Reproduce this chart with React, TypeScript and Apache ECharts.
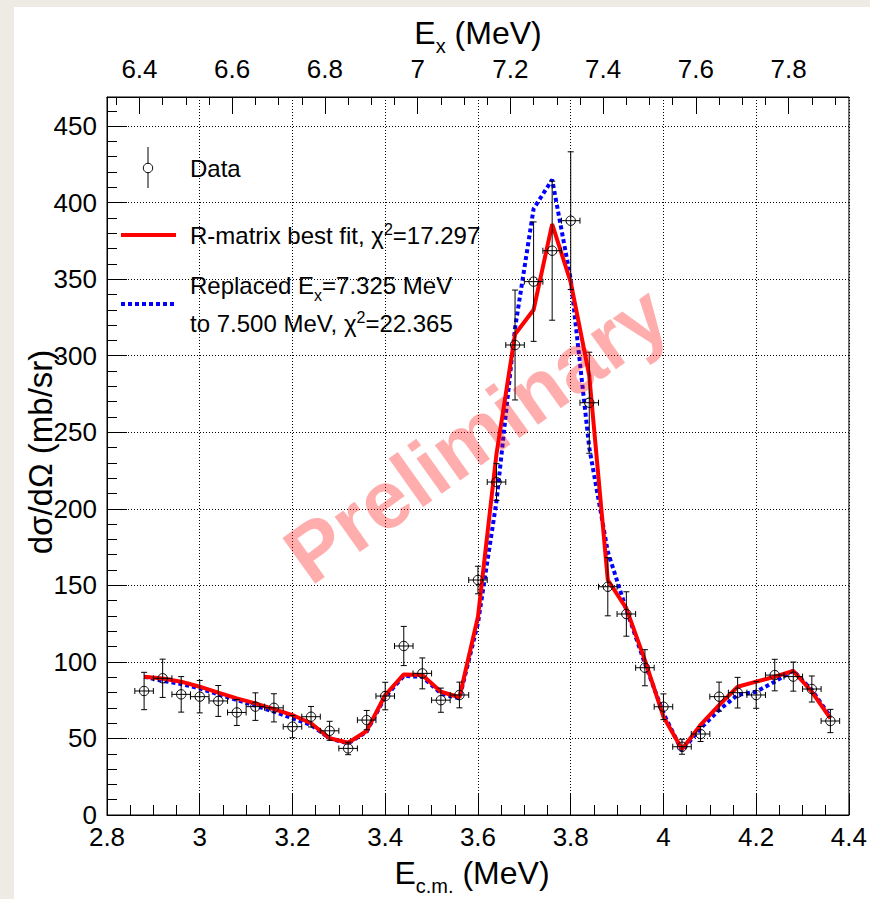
import React, { useEffect, useRef } from "react";
import * as echarts from "echarts";

// ---- data ----
const ecm = [2.88, 2.92, 2.96, 3.0, 3.04, 3.08, 3.12, 3.16, 3.2, 3.24, 3.28, 3.32, 3.36, 3.4, 3.44, 3.48, 3.52, 3.56, 3.6, 3.64, 3.68, 3.72, 3.76, 3.8, 3.84, 3.88, 3.92, 3.96, 4.0, 4.04, 4.08, 4.12, 4.16, 4.2, 4.24, 4.28, 4.32, 4.36];
const dataY = [81, 89.3, 78.8, 77.3, 74.5, 67, 70.8, 70, 57.7, 64.2, 55, 43.5, 62, 77.7, 110.4, 92.5, 75, 78.4, 153.5, 217.5, 307, 348.4, 368.6, 388.2, 269.3, 149.1, 131.3, 96.2, 70.7, 44.6, 52.9, 77.3, 79.9, 78.4, 91.4, 90.4, 82.3, 61.4];
const dataYErr = [12.2, 12.5, 11.6, 10.6, 10.1, 8.5, 9.0, 9.2, 7.2, 6.7, 6.2, 4.1, 6.3, 9.0, 12.8, 10.1, 7.9, 8.4, 9, 12, 35.9, 39, 45.4, 45, 33, 19, 14.5, 11.8, 8.4, 4.9, 4.9, 9.5, 10, 8.7, 10.3, 9.5, 8.5, 7.6];
const dataXErr = [0.02, 0.02, 0.02, 0.02, 0.02, 0.02, 0.02, 0.02, 0.02, 0.02, 0.02, 0.02, 0.02, 0.02, 0.02, 0.02, 0.02, 0.02, 0.02, 0.02, 0.02, 0.02, 0.02, 0.02, 0.02, 0.02, 0.02, 0.02, 0.02, 0.02, 0.02, 0.02, 0.02, 0.02, 0.02, 0.02, 0.02, 0.02];
const rMatrixBest = [90.3, 89.2, 87.1, 83.8, 79.9, 76.2, 72.9, 69.2, 65.3, 59.9, 50.1, 47.2, 54.9, 78.4, 91.8, 91.4, 80.5, 76.9, 129.5, 236, 314, 330, 386, 348, 287, 153.5, 135, 101.2, 64.2, 42.9, 58.8, 71.8, 83.8, 87.1, 90.3, 94.1, 80.5, 63.1];
const replaced = [90.3, 87.6, 85.6, 82.7, 78.8, 75.1, 71.4, 67.5, 63.2, 58.8, 50.1, 46.7, 54.4, 77.3, 90.8, 90.3, 79.4, 76.2, 125.3, 205, 318, 396, 415, 350, 240, 172, 134, 99, 66.4, 42, 56.6, 68.6, 78.4, 80.5, 87.1, 94.3, 81.6, 64.2];

const exLabels = [6.4, 6.6, 6.8, 7.0, 7.2, 7.4, 7.6, 7.8];
const EX_MIN = 6.33;
const EX_MAX = 7.93;

const FONT = "'Liberation Sans', Arial, Helvetica, sans-serif";

export default function App() {
  const ref = useRef<HTMLDivElement>(null);
  useEffect(() => {
    if (!ref.current) return;
    const chart = echarts.init(ref.current, null, { renderer: "svg" });

    const exMinor: number[] = [];
    for (let i = 127; i <= 158; i++) exMinor.push(+(i * 0.05).toFixed(2));

    const fmt = (v: number) => String(parseFloat(Number(v).toFixed(2)));
    const dotted = { color: "#000", width: 1, type: [1, 2] as any };

    const pts = ecm.map((x, i) => [x, dataY[i], dataXErr[i], dataYErr[i]]);

    const subRich = (fs: number, pad: number) => ({ sub: { fontSize: fs, fontFamily: FONT, fill: "#000", verticalAlign: "bottom", padding: [pad, 0, 0, 0] } });
    const supRich = (fs: number, pad: number) => ({ sup: { fontSize: fs, fontFamily: FONT, fill: "#000", verticalAlign: "top", padding: [0, 0, pad, 0] } });

    const option: any = {
      animation: false,
      backgroundColor: "transparent",
      grid: { left: 107, right: 20, top: 97, bottom: 84, show: true, borderColor: "#000", borderWidth: 1, backgroundColor: "transparent" },
      xAxis: [
        {
          type: "value", position: "bottom", min: 2.8, max: 4.4, interval: 0.2,
          axisLine: { show: true, onZero: false, lineStyle: { color: "#000", width: 1 } },
          axisTick: { show: true, inside: true, length: 22, lineStyle: { color: "#000", width: 1 } },
          minorTick: { show: true, splitNumber: 4, length: 10, lineStyle: { color: "#000", width: 1 } },
          axisLabel: { fontSize: 26, color: "#000", fontFamily: FONT, margin: 9, formatter: fmt },
          splitLine: { show: true, lineStyle: dotted },
        },
        {
          type: "value", position: "top", min: EX_MIN, max: EX_MAX,
          axisLine: { show: true, onZero: false, lineStyle: { color: "#000", width: 1 } },
          axisTick: { show: true, inside: true, length: 17, customValues: exLabels, lineStyle: { color: "#000", width: 1 } },
          axisLabel: { show: true, customValues: exLabels, fontSize: 26, color: "#000", fontFamily: FONT, margin: 15, formatter: fmt },
          splitLine: { show: false },
        },
        {
          type: "value", position: "top", min: EX_MIN, max: EX_MAX,
          axisLine: { show: false, onZero: false },
          axisTick: { show: true, inside: true, length: 8, customValues: exMinor, lineStyle: { color: "#000", width: 1 } },
          axisLabel: { show: false },
          splitLine: { show: false },
        },
      ],
      yAxis: [
        {
          type: "value", position: "left", min: 0, max: 469, interval: 50,
          axisLine: { show: true, onZero: false, lineStyle: { color: "#000", width: 1 } },
          axisTick: { show: true, inside: true, length: 20, lineStyle: { color: "#000", width: 1 } },
          axisLabel: { fontSize: 26, color: "#000", fontFamily: FONT, margin: 10, showMaxLabel: false, formatter: (v: number) => (v % 50 === 0 ? String(v) : "") },
          splitLine: { show: true, lineStyle: dotted },
        },
        {
          type: "value", position: "left", min: 0, max: 469, interval: 10,
          axisLine: { show: false, onZero: false },
          axisTick: { show: true, inside: true, length: 10, lineStyle: { color: "#000", width: 1 } },
          axisLabel: { show: false },
          splitLine: { show: false },
        },
      ],
      series: [
        {
          type: "line", name: "replaced", xAxisIndex: 0, yAxisIndex: 0, symbol: "none",
          data: ecm.map((x, i) => [x, replaced[i]]),
          lineStyle: { color: "#0000ff", width: 4, type: [4, 3] },
          z: 3,
        },
        {
          type: "line", name: "best", xAxisIndex: 0, yAxisIndex: 0, symbol: "none",
          data: ecm.map((x, i) => [x, rMatrixBest[i]]),
          lineStyle: { color: "#ff0000", width: 4 },
          z: 4,
        },
        {
          type: "custom", name: "Data", xAxisIndex: 0, yAxisIndex: 0, z: 5,
          data: pts,
          renderItem: (params: any, api: any) => {
            const x = api.value(0), y = api.value(1), ex = api.value(2), ey = api.value(3);
            const c = api.coord([x, y]);
            const t = api.coord([x, y + ey]);
            const b = api.coord([x, y - ey]);
            const l = api.coord([x - ex, y]);
            const r = api.coord([x + ex, y]);
            const st = { stroke: "#000", lineWidth: 1, fill: "none" };
            const cap = 3;
            return {
              type: "group",
              children: [
                { type: "line", shape: { x1: c[0], y1: t[1], x2: c[0], y2: b[1] }, style: st },
                { type: "line", shape: { x1: c[0] - cap, y1: t[1], x2: c[0] + cap, y2: t[1] }, style: st },
                { type: "line", shape: { x1: c[0] - cap, y1: b[1], x2: c[0] + cap, y2: b[1] }, style: st },
                { type: "line", shape: { x1: l[0], y1: c[1], x2: r[0], y2: c[1] }, style: st },
                { type: "line", shape: { x1: l[0], y1: c[1] - cap, x2: l[0], y2: c[1] + cap }, style: st },
                { type: "line", shape: { x1: r[0], y1: c[1] - cap, x2: r[0], y2: c[1] + cap }, style: st },
                { type: "circle", shape: { cx: c[0], cy: c[1], r: 4.7 }, style: { stroke: "#000", lineWidth: 1, fill: "none" } },
              ],
            };
          },
        },
      ],
      graphic: [
        // axis titles
        {
          type: "text", x: 478, y: 33, z: 50,
          style: { text: "E{sub|x} (MeV)", fontSize: 32, fontFamily: FONT, fill: "#000", align: "center", verticalAlign: "middle", rich: subRich(20, 26) },
        },
        {
          type: "text", x: 472, y: 873, z: 50,
          style: { text: "E{sub|c.m.} (MeV)", fontSize: 32, fontFamily: FONT, fill: "#000", align: "center", verticalAlign: "middle", rich: subRich(20, 26) },
        },
        {
          type: "text", x: 40, y: 452, rotation: Math.PI / 2, z: 50,
          style: { text: "dσ/dΩ (mb/sr)", fontSize: 33, fontFamily: FONT, fill: "#000", align: "center", verticalAlign: "middle" },
        },
        // legend
        { type: "line", z: 50, shape: { x1: 148, y1: 147, x2: 148, y2: 188 }, style: { stroke: "#000", lineWidth: 1 } },
        { type: "circle", z: 51, shape: { cx: 148, cy: 168, r: 4.7 }, style: { stroke: "#000", lineWidth: 1, fill: "#fff" } },
        { type: "text", x: 190, y: 168, z: 50, style: { text: "Data", fontSize: 24, fontFamily: FONT, fill: "#000", verticalAlign: "middle" } },
        { type: "line", z: 50, shape: { x1: 121, y1: 235, x2: 176, y2: 235 }, style: { stroke: "#ff0000", lineWidth: 4 } },
        {
          type: "text", x: 190, y: 235, z: 50,
          style: { text: "R-matrix best fit, χ{sup|2}=17.297", fontSize: 24, fontFamily: FONT, fill: "#000", verticalAlign: "middle", rich: supRich(16, 12) },
        },
        { type: "line", z: 50, shape: { x1: 121, y1: 304, x2: 176, y2: 304 }, style: { stroke: "#0000ff", lineWidth: 4, lineDash: [4, 3] } },
        {
          type: "text", x: 190, y: 285, z: 50,
          style: { text: "Replaced E{sub|x}=7.325 MeV", fontSize: 24, fontFamily: FONT, fill: "#000", verticalAlign: "middle", rich: subRich(16, 20) },
        },
        {
          type: "text", x: 190, y: 323, z: 50,
          style: { text: "to 7.500 MeV, χ{sup|2}=22.365", fontSize: 24, fontFamily: FONT, fill: "#000", verticalAlign: "middle", rich: supRich(16, 12) },
        },
        // watermark
        {
          type: "text", x: 476, y: 434, rotation: (35.5 * Math.PI) / 180, z: 100,
          style: { text: "Preliminary", fontSize: 82, fontWeight: "bold", fontFamily: FONT, fill: "rgba(255,0,0,0.32)", align: "center", verticalAlign: "middle" },
        },
      ],
    };
    chart.setOption(option);
    return () => chart.dispose();
  }, []);

  return (
    <div style={{ position: "absolute", left: 0, top: 0, width: 870, height: 899, background: "#eeebe4", overflow: "hidden" }}>
      <div style={{ position: "absolute", left: 14, top: 7, width: 856, height: 892, background: "#ffffff" }} />
      <div ref={ref} style={{ position: "absolute", left: 0, top: 0, width: 870, height: 899 }} />
    </div>
  );
}
